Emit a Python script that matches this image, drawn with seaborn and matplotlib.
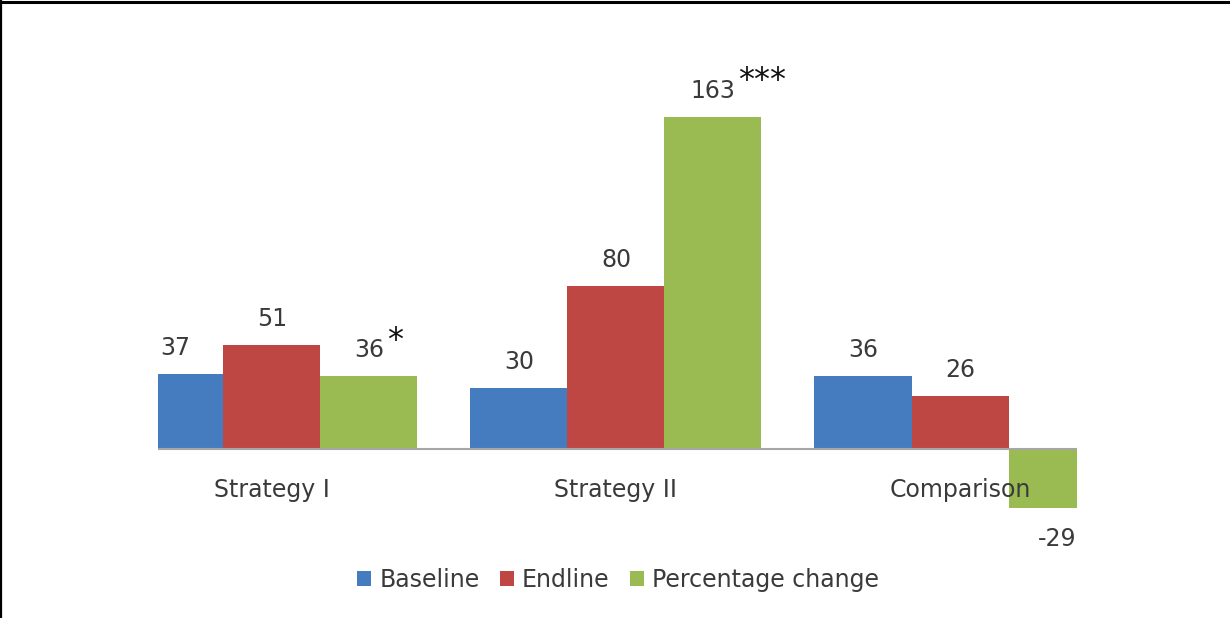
import matplotlib
matplotlib.use("Agg")
import matplotlib.pyplot as plt
import seaborn as sns
import pandas as pd
from matplotlib.lines import Line2D

categories = ["Strategy I", "Strategy II", "Comparison"]
series = ["Baseline", "Endline", "Percentage change"]
baseline = [37, 30, 36]
endline = [51, 80, 26]
pct_change = [36, 163, -29]
significance = ["*", "***", ""]
colors = ["#457CBF", "#BE4744", "#9ABA52"]

rows = []
for name, vals in zip(series, [baseline, endline, pct_change]):
    for cat, v in zip(categories, vals):
        rows.append({"category": cat, "series": name, "value": v})
df = pd.DataFrame(rows)

sns.set_theme(style="white")
plt.rcParams["font.family"] = ["DejaVu Sans"]
TXT = "#3a3a3a"
FS = 17

fig = plt.figure(figsize=(12.3, 6.18), dpi=100)
ax = fig.add_axes([158 / 1230, (618 - 571) / 618, 919 / 1230, 468 / 618])

sns.barplot(data=df, x="category", y="value", hue="series", order=categories,
            hue_order=series, palette=colors, width=0.846, saturation=1,
            errorbar=None, linewidth=0, ax=ax)

handles, labels = ax.get_legend_handles_labels()
if ax.get_legend() is not None:
    ax.get_legend().remove()

ax.set_xlim(-0.331, 2.34)
ax.set_ylim(-60, 170)
for s in ax.spines.values():
    s.set_visible(False)
ax.set_xticks([])
ax.set_yticks([])
ax.set_xlabel("")
ax.set_ylabel("")
ax.axhline(0, color="#a6a6a6", lw=1.5, zorder=3)

# value labels
for si, (cont, name) in enumerate(zip(ax.containers, series)):
    vals = df[df["series"] == name].set_index("category").loc[categories, "value"].tolist()
    for ci, (bar, v) in enumerate(zip(cont, vals)):
        x = bar.get_x() + bar.get_width() / 2
        off = 13.7 if v >= 0 else -27.4
        t = ax.annotate(f"{v}", xy=(x, v), xytext=(0, off), textcoords="offset points",
                        ha="center", va="baseline", fontsize=FS, color=TXT,
                        annotation_clip=False)
        if name == "Percentage change" and significance[ci]:
            raise_pt = 19.5 if len(significance[ci]) == 1 else 20.0
            ax.annotate(significance[ci], xy=(1, v), xycoords=(t, "data"),
                        xytext=(2, raise_pt), textcoords="offset points",
                        ha="left", va="baseline", fontsize=23, color="#111111",
                        annotation_clip=False)

# category labels
for i, cat in enumerate(categories):
    ax.text(i, -20.1, cat, ha="center", va="center", fontsize=FS, color=TXT)

fig.legend(handles, labels, loc="center", bbox_to_anchor=(618 / 1230, 1 - 580 / 618),
           ncol=3, frameon=False, fontsize=FS, handlelength=0.6, handleheight=0.6,
           handletextpad=0.35, columnspacing=0.85, labelcolor=TXT)

# partial frame (top and left)
fig.add_artist(Line2D([0, 1], [1 - 1.5 / 618, 1 - 1.5 / 618], transform=fig.transFigure,
                      color="black", lw=2.2))
fig.add_artist(Line2D([1.2 / 1230, 1.2 / 1230], [0, 1], transform=fig.transFigure,
                      color="black", lw=1.6))

fig.savefig("out.png", dpi=100, facecolor="white")
